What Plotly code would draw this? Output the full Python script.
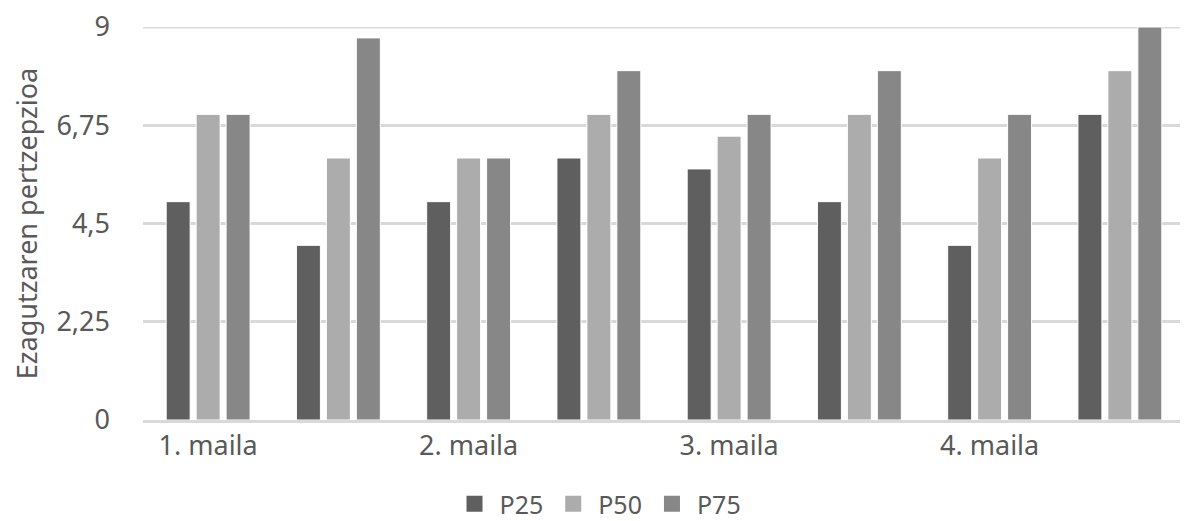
import plotly.graph_objects as go

groups = [0, 1, 2, 3, 4, 5, 6, 7]
tick_positions = [0, 2, 4, 6]
tick_labels = ["1. maila", "2. maila", "3. maila", "4. maila"]
p25 = [5, 4, 5, 6, 5.75, 5, 4, 7]
p50 = [7, 6, 6, 7, 6.5, 7, 6, 8]
p75 = [7, 8.75, 6, 8, 7, 8, 7, 9]
y_ticks = [0, 2.25, 4.5, 6.75, 9]
y_tick_labels = ["0", "2,25", "4,5", "6,75", "9"]

series = [("P25", p25, "#5f5f5f"), ("P50", p50, "#acacac"), ("P75", p75, "#878787")]

fig = go.Figure()
for name, vals, col in series:
    fig.add_trace(go.Bar(x=groups, y=vals, name=name, showlegend=False,
                         marker=dict(color=col, line=dict(color="white", width=1))))
for name, vals, col in series:
    fig.add_trace(go.Scatter(x=[None], y=[None], mode="markers", name=name,
                             marker=dict(symbol="square", size=16, color=col)))

grid_col = "#d9d9d9"
# top gridline (plotly drops the grid line lying on the range end)
fig.add_shape(type="line", xref="paper", x0=0, x1=1, yref="y", y0=y_ticks[-1], y1=y_ticks[-1],
              line=dict(color=grid_col, width=3), layer="below")

font = "Noto Sans"
txt = "#595959"
fig.update_layout(
    width=1180, height=513,
    margin=dict(l=135, r=3, t=19, b=101, autoexpand=False),
    paper_bgcolor="white", plot_bgcolor="white",
    barmode="group", bargap=0.31, bargroupgap=0.2,
    font=dict(family=font, color=txt, size=27),
    legend=dict(orientation="h", x=0.5, xanchor="center", xref="container",
                y=0.033, yanchor="middle", yref="container",
                font=dict(size=25, color=txt), itemwidth=40, traceorder="normal",
                itemsizing="trace"),
    xaxis=dict(range=[-0.5, 7.5], tickvals=tick_positions, ticktext=tick_labels,
               showgrid=False, showline=True, linecolor=grid_col, linewidth=3,
               ticks="", tickfont=dict(size=27, color=txt), automargin=False),
    yaxis=dict(range=[0, 9], tickvals=y_ticks, ticktext=y_tick_labels,
               showgrid=True, gridcolor=grid_col, gridwidth=3, zeroline=False,
               ticks="", ticklabelstandoff=32, tickfont=dict(size=27, color=txt),
               ticklabeloverflow="allow", automargin=False,
               title=dict(text="Ezagutzaren pertzepzioa", font=dict(size=27, color=txt), standoff=12)),
)
fig.write_html("out.html")
